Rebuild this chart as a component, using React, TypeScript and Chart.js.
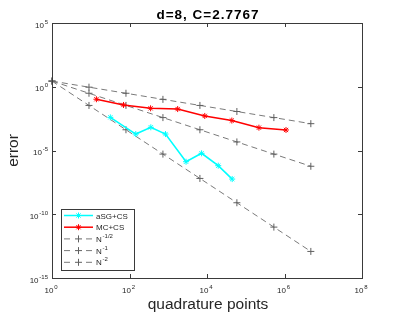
import React, { useEffect, useRef } from 'react';
import { Chart, registerables } from 'chart.js';
Chart.register(...registerables);

const FONT = '"Liberation Sans", Arial, Helvetica, sans-serif';

const titleText = 'd=8, C=2.7767';
const xLabel = 'quadrature points';
const yLabel = 'error';

const xTickValues = [1, 1e2, 1e4, 1e6, 1e8];
const xTickExps = ['0', '2', '4', '6', '8'];
const yTickValues = [1e5, 1, 1e-5, 1e-10, 1e-15];
const yTickExps = ['5', '0', '-5', '-10', '-15'];

// aSG+CS
const aSGx = [32, 145, 355, 850, 2880, 7240, 19500, 44700];
const aSGy = [3.98e-3, 1.95e-4, 6.61e-4, 1.95e-4, 1.32e-6, 6.03e-6, 6.46e-7, 5.75e-8];
// MC+CS
const mcX = [14, 70, 350, 1750, 8750, 43750, 218750, 1093750];
const mcY = [0.105, 0.0372, 0.0204, 0.0178, 5.13e-3, 2.24e-3, 6.17e-4, 4.07e-4];
// reference rates
const refN = [1, 9, 81, 729, 6561, 59049, 531441, 4782969];
const refHalf = [2.7767, 0.92557, 0.30852, 0.10284, 0.03428, 0.011427, 0.0038089, 0.0012696];
const refOne = [2.7767, 0.30852, 0.03428, 0.0038089, 4.2321e-4, 4.7024e-5, 5.2249e-6, 5.8054e-7];
const refTwo = [2.7767, 0.03428, 4.2321e-4, 5.2249e-6, 6.4505e-8, 7.9636e-10, 9.8317e-12, 1.2138e-13];

const legendBase = ['aSG+CS', 'MC+CS', 'N', 'N', 'N'];
const legendSup = ['', '', '-1/2', '-1', '-2'];

const CYAN = '#00FFFF';
const RED = '#FF0000';
const GRAY = '#7a7a7a';
const GRAY_MK = '#606060';
const AXIS = '#3a3a3a';
const TEXT = '#262626';

function pts(xs: number[], ys: number[]) {
  return xs.map((x, i) => ({ x, y: ys[i] }));
}

function drawSup(ctx: CanvasRenderingContext2D, base: string, sup: string, x: number, y: number,
  align: string, baseSize: number, supSize: number) {
  ctx.font = `${baseSize}px ${FONT}`;
  const wb = ctx.measureText(base).width;
  ctx.font = `${supSize}px ${FONT}`;
  const ws = sup ? ctx.measureText(sup).width : 0;
  const gap = sup ? 0.8 : 0;
  const total = wb + gap + ws;
  const x0 = align === 'right' ? x - total : align === 'center' ? x - total / 2 : x;
  ctx.textAlign = 'left';
  ctx.textBaseline = 'alphabetic';
  ctx.font = `${baseSize}px ${FONT}`;
  ctx.fillText(base, x0, y);
  if (sup) {
    ctx.font = `${supSize}px ${FONT}`;
    ctx.fillText(sup, x0 + wb + gap, y - baseSize * 0.5);
  }
}

function marker(ctx: CanvasRenderingContext2D, style: string, x: number, y: number, r: number, color: string) {
  ctx.save();
  ctx.strokeStyle = color;
  ctx.lineWidth = 1;
  ctx.setLineDash([]);
  ctx.beginPath();
  ctx.moveTo(x - r, y); ctx.lineTo(x + r, y);
  ctx.moveTo(x, y - r); ctx.lineTo(x, y + r);
  if (style === 'star') {
    const d = r * 0.707;
    ctx.moveTo(x - d, y - d); ctx.lineTo(x + d, y + d);
    ctx.moveTo(x - d, y + d); ctx.lineTo(x + d, y - d);
  }
  ctx.stroke();
  ctx.restore();
}

const decorPlugin = {
  id: 'matlabDecor',
  afterDatasetsDraw(chart: any) {
    const ctx: CanvasRenderingContext2D = chart.ctx;
    const { left, right, top, bottom } = chart.chartArea;
    const xs = chart.scales.x;
    const ys = chart.scales.y;
    ctx.save();
    // box
    ctx.strokeStyle = AXIS;
    ctx.lineWidth = 1;
    ctx.setLineDash([]);
    ctx.strokeRect(Math.round(left) + 0.5, Math.round(top) + 0.5, Math.round(right - left), Math.round(bottom - top));
    // ticks
    ctx.beginPath();
    xTickValues.forEach((v) => {
      const px = Math.round(xs.getPixelForValue(v)) + 0.5;
      ctx.moveTo(px, bottom); ctx.lineTo(px, bottom - 4);
      ctx.moveTo(px, top); ctx.lineTo(px, top + 4);
    });
    yTickValues.forEach((v) => {
      const py = Math.round(ys.getPixelForValue(v)) + 0.5;
      ctx.moveTo(left, py); ctx.lineTo(left + 4, py);
      ctx.moveTo(right, py); ctx.lineTo(right - 4, py);
    });
    ctx.stroke();
    // tick labels
    ctx.fillStyle = TEXT;
    xTickValues.forEach((v, i) => {
      const px = xs.getPixelForValue(v);
      drawSup(ctx, '10', xTickExps[i], px - 1, bottom + 15, 'center', 8, 6);
    });
    yTickValues.forEach((v, i) => {
      const py = ys.getPixelForValue(v);
      drawSup(ctx, '10', yTickExps[i], left - 4, py + 4.5, 'right', 8, 6);
    });
    // title
    ctx.fillStyle = '#000';
    ctx.font = `bold 13.5px ${FONT}`;
    (ctx as any).letterSpacing = '1px';
    ctx.textAlign = 'center';
    ctx.textBaseline = 'alphabetic';
    ctx.fillText(titleText, (left + right) / 2 + 1, 19);
    (ctx as any).letterSpacing = '0px';
    // axis labels
    ctx.fillStyle = TEXT;
    ctx.font = `15.5px ${FONT}`;
    ctx.fillText(xLabel, (left + right) / 2 + 1, 309);
    ctx.save();
    ctx.translate(18, (top + bottom) / 2);
    ctx.rotate(-Math.PI / 2);
    ctx.fillText(yLabel, 0, 0);
    ctx.restore();
    // legend
    const lx0 = 61, ly0 = 209, lw = 73, lh = 61;
    ctx.fillStyle = '#fff';
    ctx.fillRect(lx0, ly0, lw, lh);
    ctx.strokeStyle = AXIS;
    ctx.lineWidth = 1;
    ctx.strokeRect(lx0 + 0.5, ly0 + 0.5, lw, lh);
    const colors = [CYAN, RED, GRAY, GRAY, GRAY];
    const mcolors = [CYAN, RED, GRAY_MK, GRAY_MK, GRAY_MK];
    const styles = ['star', 'star', 'cross', 'cross', 'cross'];
    legendBase.forEach((b, i) => {
      const y = 215.5 + i * 11.7;
      ctx.save();
      ctx.strokeStyle = colors[i];
      if (i < 2) {
        ctx.lineWidth = 1.5;
        ctx.beginPath(); ctx.moveTo(64, y); ctx.lineTo(93, y); ctx.stroke();
      } else {
        ctx.lineWidth = 1;
        ctx.beginPath();
        ctx.moveTo(64, y); ctx.lineTo(70, y);
        ctx.moveTo(86, y); ctx.lineTo(92, y);
        ctx.stroke();
      }
      ctx.restore();
      marker(ctx, styles[i], 78.5, y, i < 2 ? 3 : 3.5, mcolors[i]);
      ctx.fillStyle = TEXT;
      drawSup(ctx, b, legendSup[i], 96, y + 3, 'left', 8, 6);
    });
    ctx.restore();
  },
};

export default function App() {
  const ref = useRef<HTMLCanvasElement | null>(null);
  useEffect(() => {
    if (!ref.current) return;
    const chart = new Chart(ref.current, {
      type: 'scatter',
      data: {
        datasets: [
          {
            label: 'aSG+CS', data: pts(aSGx, aSGy), showLine: true,
            borderColor: CYAN, backgroundColor: CYAN, borderWidth: 1.6,
            pointStyle: 'star', pointRadius: 3, pointBorderColor: CYAN, pointBorderWidth: 1, clip: false,
          },
          {
            label: 'MC+CS', data: pts(mcX, mcY), showLine: true,
            borderColor: RED, backgroundColor: RED, borderWidth: 1.6,
            pointStyle: 'star', pointRadius: 3, pointBorderColor: RED, pointBorderWidth: 1, clip: false,
          },
          {
            label: 'N^-1/2', data: pts(refN, refHalf), showLine: true,
            borderColor: GRAY, backgroundColor: GRAY, borderWidth: 1, borderDash: [6, 4],
            pointStyle: 'cross', pointRadius: 3.5, pointBorderColor: GRAY_MK, pointBorderWidth: 1, clip: false,
          },
          {
            label: 'N^-1', data: pts(refN, refOne), showLine: true,
            borderColor: GRAY, backgroundColor: GRAY, borderWidth: 1, borderDash: [6, 4],
            pointStyle: 'cross', pointRadius: 3.5, pointBorderColor: GRAY_MK, pointBorderWidth: 1, clip: false,
          },
          {
            label: 'N^-2', data: pts(refN, refTwo), showLine: true,
            borderColor: GRAY, backgroundColor: GRAY, borderWidth: 1, borderDash: [6, 4],
            pointStyle: 'cross', pointRadius: 3.5, pointBorderColor: GRAY_MK, pointBorderWidth: 1, clip: false,
          },
        ],
      },
      options: {
        responsive: false,
        animation: false,
        events: [],
        layout: { padding: { left: 52, right: 37, top: 23, bottom: 37 } },
        scales: {
          x: { type: 'logarithmic', min: 1, max: 1e8, display: false },
          y: { type: 'logarithmic', min: 1e-15, max: 1e5, display: false },
        },
        plugins: {
          legend: { display: false },
          title: { display: false },
          tooltip: { enabled: false },
        },
      },
      plugins: [decorPlugin],
    } as any);
    return () => chart.destroy();
  }, []);
  return (
    <div style={{ position: 'fixed', left: 0, top: 0, width: 399, height: 315, background: '#fff' }}>
      <canvas ref={ref} width={399} height={315} />
    </div>
  );
}
